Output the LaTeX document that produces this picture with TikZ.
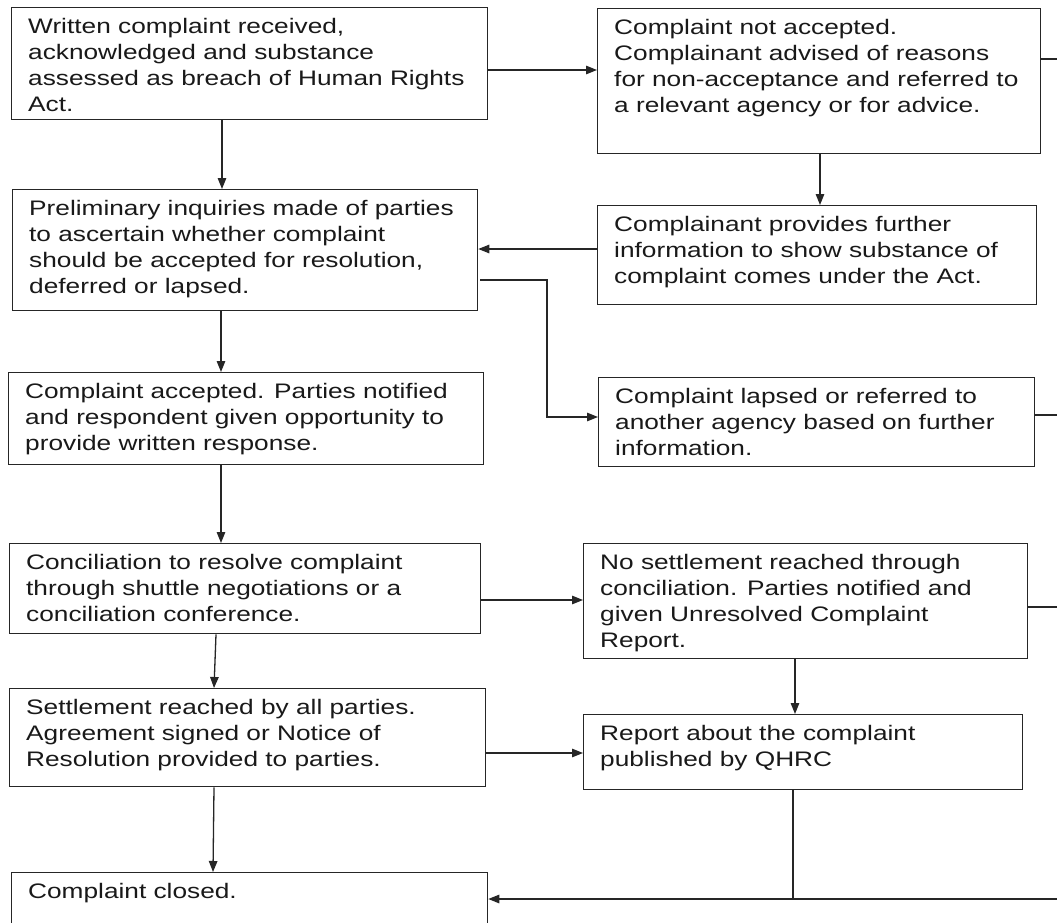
\documentclass[tikz,border=0pt]{standalone}
\usepackage{fontspec}
\newfontfamily\wide[FakeStretch=1.25]{Liberation Sans}
\usetikzlibrary{arrows.meta}
\tikzset{
  box/.style={draw=black!85, line width=1.3pt, inner sep=0pt, anchor=north west},
  txt/.style={inner sep=0pt, anchor=north west, align=left, text=black!90,
    font=\wide\fontsize{21}{26}\selectfont},
  conn/.style={draw=black!85, line width=1.3pt},
  arr/.style={conn, -{Triangle[length=11pt,width=8.5pt]}},
}
\newcommand{\flowbox}[6]{%
  \node[box, minimum width=#4-#2, minimum height=#5-#3] (#1) at (#2,#3) {};
  \node[txt] (#1t) at ([shift={(17,8)}]#1.north west) {\strut#6};
}
\begin{document}
\begin{tikzpicture}[x=1pt,y=-1pt]
\useasboundingbox (0,0) rectangle (1057,923);
\clip (0,0) rectangle (1057,923);
\fill[white] (0,0) rectangle (1057,923);
\flowbox{A}{11}{7}{487}{119}{Written complaint received,\\acknowledged and substance\\assessed as breach of Human Rights\\Act.}
\flowbox{C}{597}{8}{1040}{153}{Complaint not accepted.\\Complainant advised of reasons\\for non-acceptance and referred to\\a relevant agency or for advice.}
\flowbox{B}{12}{189}{477}{310}{Preliminary inquiries made of parties\\to ascertain whether complaint\\should be accepted for resolution,\\deferred or lapsed.}
\flowbox{D}{597}{205}{1036}{304}{Complainant provides further\\information to show substance of\\complaint comes under the Act.}
\flowbox{F}{8}{372}{483}{464}{Complaint accepted. Parties notified\\and respondent given opportunity to\\provide written response.}
\flowbox{E}{598}{377}{1034}{466}{Complaint lapsed or referred to\\another agency based on further\\information.}
\flowbox{G}{9}{543}{480}{633}{Conciliation to resolve complaint\\through shuttle negotiations or a\\conciliation conference.}
\flowbox{J}{583}{543}{1027}{658}{No settlement reached through\\conciliation. Parties notified and\\given Unresolved Complaint\\Report.}
\flowbox{H}{9}{688}{485}{786}{Settlement reached by all parties.\\Agreement signed or Notice of\\Resolution provided to parties.}
\flowbox{K}{583}{714}{1022}{789}{Report about the complaint\\published by QHRC}
\flowbox{I}{11}{872}{487}{970}{Complaint closed.}

\coordinate (cOut) at (1065,59);
\coordinate (eOut) at (1065,415);
\coordinate (jOut) at (1065,607);
\coordinate (iIn) at (1065,899);
\coordinate (bBend) at (547,280);
\coordinate (kJoin) at (793,899);

\draw[arr] (A.south -| 222,0) -- (B.north -| 222,0);
\draw[arr] (A.east |- 0,70) -- (C.west |- 0,70);
\draw[conn] (C.east |- cOut) -- (cOut);
\draw[arr] (C.south -| 820,0) -- (D.north -| 820,0);
\draw[arr] (D.west |- 0,249) -- (B.east |- 0,249);
\draw[arr] ([xshift=2]B.east |- bBend) -- (bBend) -- (bBend |- 0,417) -- (E.west |- 0,417);
\draw[conn] (E.east |- eOut) -- (eOut);
\draw[arr] (B.south -| 221,0) -- (F.north -| 221,0);
\draw[arr] (F.south -| 221,0) -- (G.north -| 221,0);
\draw[arr] (G.east |- 0,600) -- (J.west |- 0,600);
\draw[conn] (J.east |- jOut) -- (jOut);
\draw[arr] (G.south -| 216,0) -- (H.north -| 214,0);
\draw[arr] (H.east |- 0,753) -- (K.west |- 0,753);
\draw[arr] (J.south -| 795,0) -- (K.north -| 795,0);
\draw[arr] (H.south -| 214,0) -- (I.north -| 213,0);
\draw[conn] (K.south -| kJoin) -- (kJoin);
\draw[arr] (iIn) -- (I.east |- iIn);
\end{tikzpicture}
\end{document}
